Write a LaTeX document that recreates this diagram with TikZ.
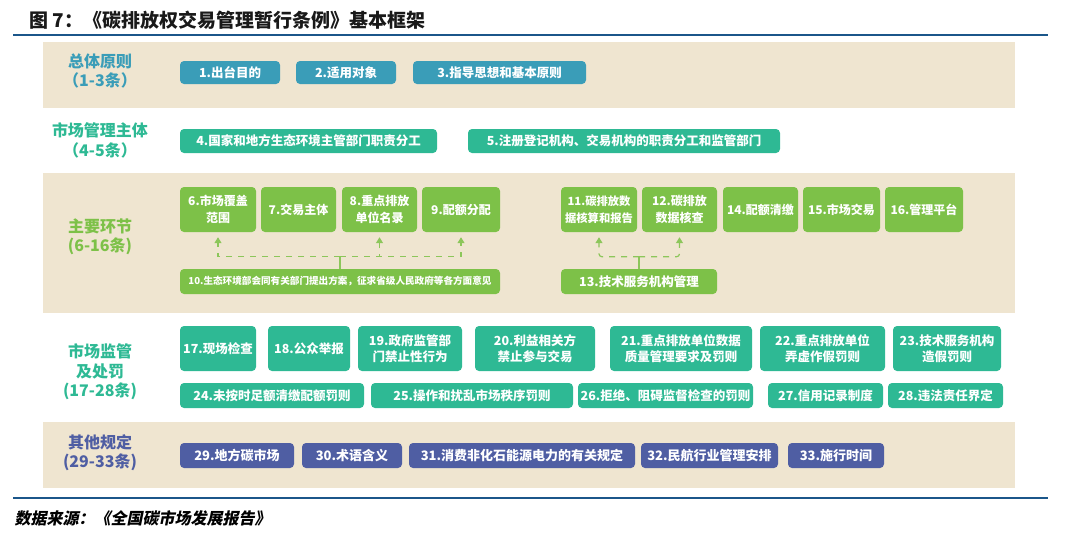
\documentclass[tikz,border=0pt]{standalone}
\usepackage{fontspec}
\setmainfont{Noto Sans CJK SC}
\newfontfamily\cjkslant[FakeSlant=0.2]{Noto Sans CJK SC}
\usetikzlibrary{arrows.meta}
\definecolor{rulenavy}{RGB}{27,86,138}
\definecolor{bandbeige}{RGB}{239,229,208}
\definecolor{tealbox}{RGB}{58,157,184}
\definecolor{mintbox}{RGB}{46,185,148}
\definecolor{leafbox}{RGB}{125,193,72}
\definecolor{leafline}{RGB}{140,198,90}
\definecolor{navybox}{RGB}{79,94,163}
\tikzset{
  band/.style={fill=bandbeige, draw=none},
  rule/.style={draw=rulenavy, line width=2.6pt},
  tag/.style={font=\fontsize{16}{19.5}\selectfont\bfseries, align=center},
  item/.style={draw=none, rounded corners=4pt, text=white, inner sep=0pt,
               align=center, minimum height=24pt,
               font=\fontsize{12.5}{16}\selectfont\bfseries},
  tealitem/.style={item, fill=tealbox, minimum height=23pt},
  mintitem/.style={item, fill=mintbox},
  leafitem/.style={item, fill=leafbox, minimum height=45pt,
                   font=\fontsize{12}{16.5}\selectfont\bfseries},
  leafwide/.style={item, fill=leafbox, minimum height=25pt},
  navyitem/.style={item, fill=navybox, minimum height=25pt,
                   font=\fontsize{13}{16}\selectfont\bfseries},
  stem/.style={draw=leafline, line width=1.2pt},
  flow/.style={-{Triangle[length=6pt,width=7pt]}, draw=leafline, fill=none,
               line width=1.2pt, dash pattern=on 6pt off 6pt},
}

\begin{document}
\begin{tikzpicture}[x=1pt,y=-1pt]
  \path[use as bounding box] (0,0) rectangle (1080,536);

  \node[anchor=west, font=\fontsize{19}{22}\selectfont\bfseries, text=black!90]
    (TITLE) at (26,20) {图 7：《碳排放权交易管理暂行条例》基本框架};
  \draw[rule] (13,35) -- (1048,35);

  \fill[band] (43,42) rectangle (1015,108);
  \fill[band] (43,173) rectangle (1015,313);
  \fill[band] (43,422) rectangle (1015,488);

  % general principles
  \node[tag, text=tealbox] (L1) at (100,71) {总体原则\\（1-3条）};
  \node[tealitem, minimum width=100pt] (P1) at (230,72.5) {1.出台目的};
  \node[tealitem, minimum width=100pt] (P2) at (346,72.5) {2.适用对象};
  \node[tealitem, minimum width=173pt] (P3) at (499.5,72.5) {3.指导思想和基本原则};

  % market management bodies
  \node[tag, text=mintbox] (L2) at (100,140.5) {市场管理主体\\（4-5条）};
  \node[mintitem, minimum width=257pt] (M4) at (308.5,141)
    {4.国家和地方生态环境主管部门职责分工};
  \node[mintitem, minimum width=312pt] (M5) at (624,141)
    {5.注册登记机构、交易机构的职责分工和监管部门};

  % main links
  \node[tag, text=leafbox] (L3) at (100,237) {主要环节\\(6-16条)};
  \node[leafitem, minimum width=76pt] (K6) at (218,209.5) {6.市场覆盖\\范围};
  \node[leafitem, minimum width=75pt] (K7) at (298.5,209.5) {7.交易主体};
  \node[leafitem, minimum width=75pt] (K8) at (379.5,209.5) {8.重点排放\\单位名录};
  \node[leafitem, minimum width=78pt] (K9) at (461,209.5) {9.配额分配};
  \node[leafitem, minimum width=76pt, font=\fontsize{11.3}{16.5}\selectfont\bfseries]
    (K11) at (599,209.5) {11.碳排放数\\据核算和报告};
  \node[leafitem, minimum width=75pt] (K12) at (679.5,209.5) {12.碳排放\\数据核查};
  \node[leafitem, minimum width=75pt] (K14) at (760.5,209.5) {14.配额清缴};
  \node[leafitem, minimum width=77pt] (K15) at (841.5,209.5) {15.市场交易};
  \node[leafitem, minimum width=78pt] (K16) at (924,209.5) {16.管理平台};
  \node[leafwide, minimum width=320pt, font=\fontsize{9.6}{12}\selectfont\bfseries]
    (K10) at (340,281.5) {10.生态环境部会同有关部门提出方案，征求省级人民政府等各方面意见};
  \node[leafwide, minimum width=156pt] (K13) at (639,281.5) {13.技术服务机构管理};

  \draw[stem] (K10.north) -- ++(0,-12) coordinate (J10);
  \draw[flow] (J10) -| ([yshift=-5pt]K6.south);
  \draw[flow] (J10) -| ([yshift=-5pt]K8.south);
  \draw[flow] (J10) -| ([yshift=-5pt]K9.south);
  \draw[stem] (K13.north) -- ++(0,-12) coordinate (J13);
  \draw[flow, rounded corners=3pt] (J13) -| ([yshift=-5pt]K11.south);
  \draw[flow, rounded corners=3pt] (J13) -| ([yshift=-5pt]K12.south);

  % supervision and penalties
  \node[tag, text=mintbox] (L4) at (100,372) {市场监管\\及处罚\\(17-28条)};
  \node[mintitem, minimum width=76pt, minimum height=45pt] (S17) at (218,348.5) {17.现场检查};
  \node[mintitem, minimum width=82pt, minimum height=45pt] (S18) at (309,348.5) {18.公众举报};
  \node[mintitem, minimum width=104pt, minimum height=45pt] (S19) at (410,348.5)
    {19.政府监管部\\门禁止性行为};
  \node[mintitem, minimum width=120pt, minimum height=45pt] (S20) at (535,348.5)
    {20.利益相关方\\禁止参与交易};
  \node[mintitem, minimum width=142pt, minimum height=45pt] (S21) at (681,348.5)
    {21.重点排放单位数据\\质量管理要求及罚则};
  \node[mintitem, minimum width=125pt, minimum height=45pt] (S22) at (822.5,348.5)
    {22.重点排放单位\\弄虚作假罚则};
  \node[mintitem, minimum width=108pt, minimum height=45pt] (S23) at (947,348.5)
    {23.技术服务机构\\造假罚则};
  \node[mintitem, minimum width=184pt, minimum height=25pt] (S24) at (272,395.5)
    {24.未按时足额清缴配额罚则};
  \node[mintitem, minimum width=202pt, minimum height=25pt] (S25) at (472,395.5)
    {25.操作和扰乱市场秩序罚则};
  \node[mintitem, minimum width=175pt, minimum height=25pt] (S26) at (665.5,395.5)
    {26.拒绝、阻碍监督检查的罚则};
  \node[mintitem, minimum width=115pt, minimum height=25pt] (S27) at (825.5,395.5)
    {27.信用记录制度};
  \node[mintitem, minimum width=115pt, minimum height=25pt] (S28) at (945.5,395.5)
    {28.违法责任界定};

  % other provisions
  \node[tag, text=navybox] (L5) at (100,452.5) {其他规定\\(29-33条)};
  \node[navyitem, minimum width=114pt] (Q29) at (237,455.5) {29.地方碳市场};
  \node[navyitem, minimum width=100pt] (Q30) at (352,455.5) {30.术语含义};
  \node[navyitem, minimum width=226pt] (Q31) at (522,455.5) {31.消费非化石能源电力的有关规定};
  \node[navyitem, minimum width=137pt] (Q32) at (709.5,455.5) {32.民航行业管理安排};
  \node[navyitem, minimum width=96pt] (Q33) at (836,455.5) {33.施行时间};

  \draw[rule] (13,498) -- (1048,498);
  \node[anchor=west, font=\cjkslant\fontsize{16}{19}\selectfont\bfseries]
    (SRC) at (11,518) {数据来源：《全国碳市场发展报告》};
\end{tikzpicture}
\end{document}
